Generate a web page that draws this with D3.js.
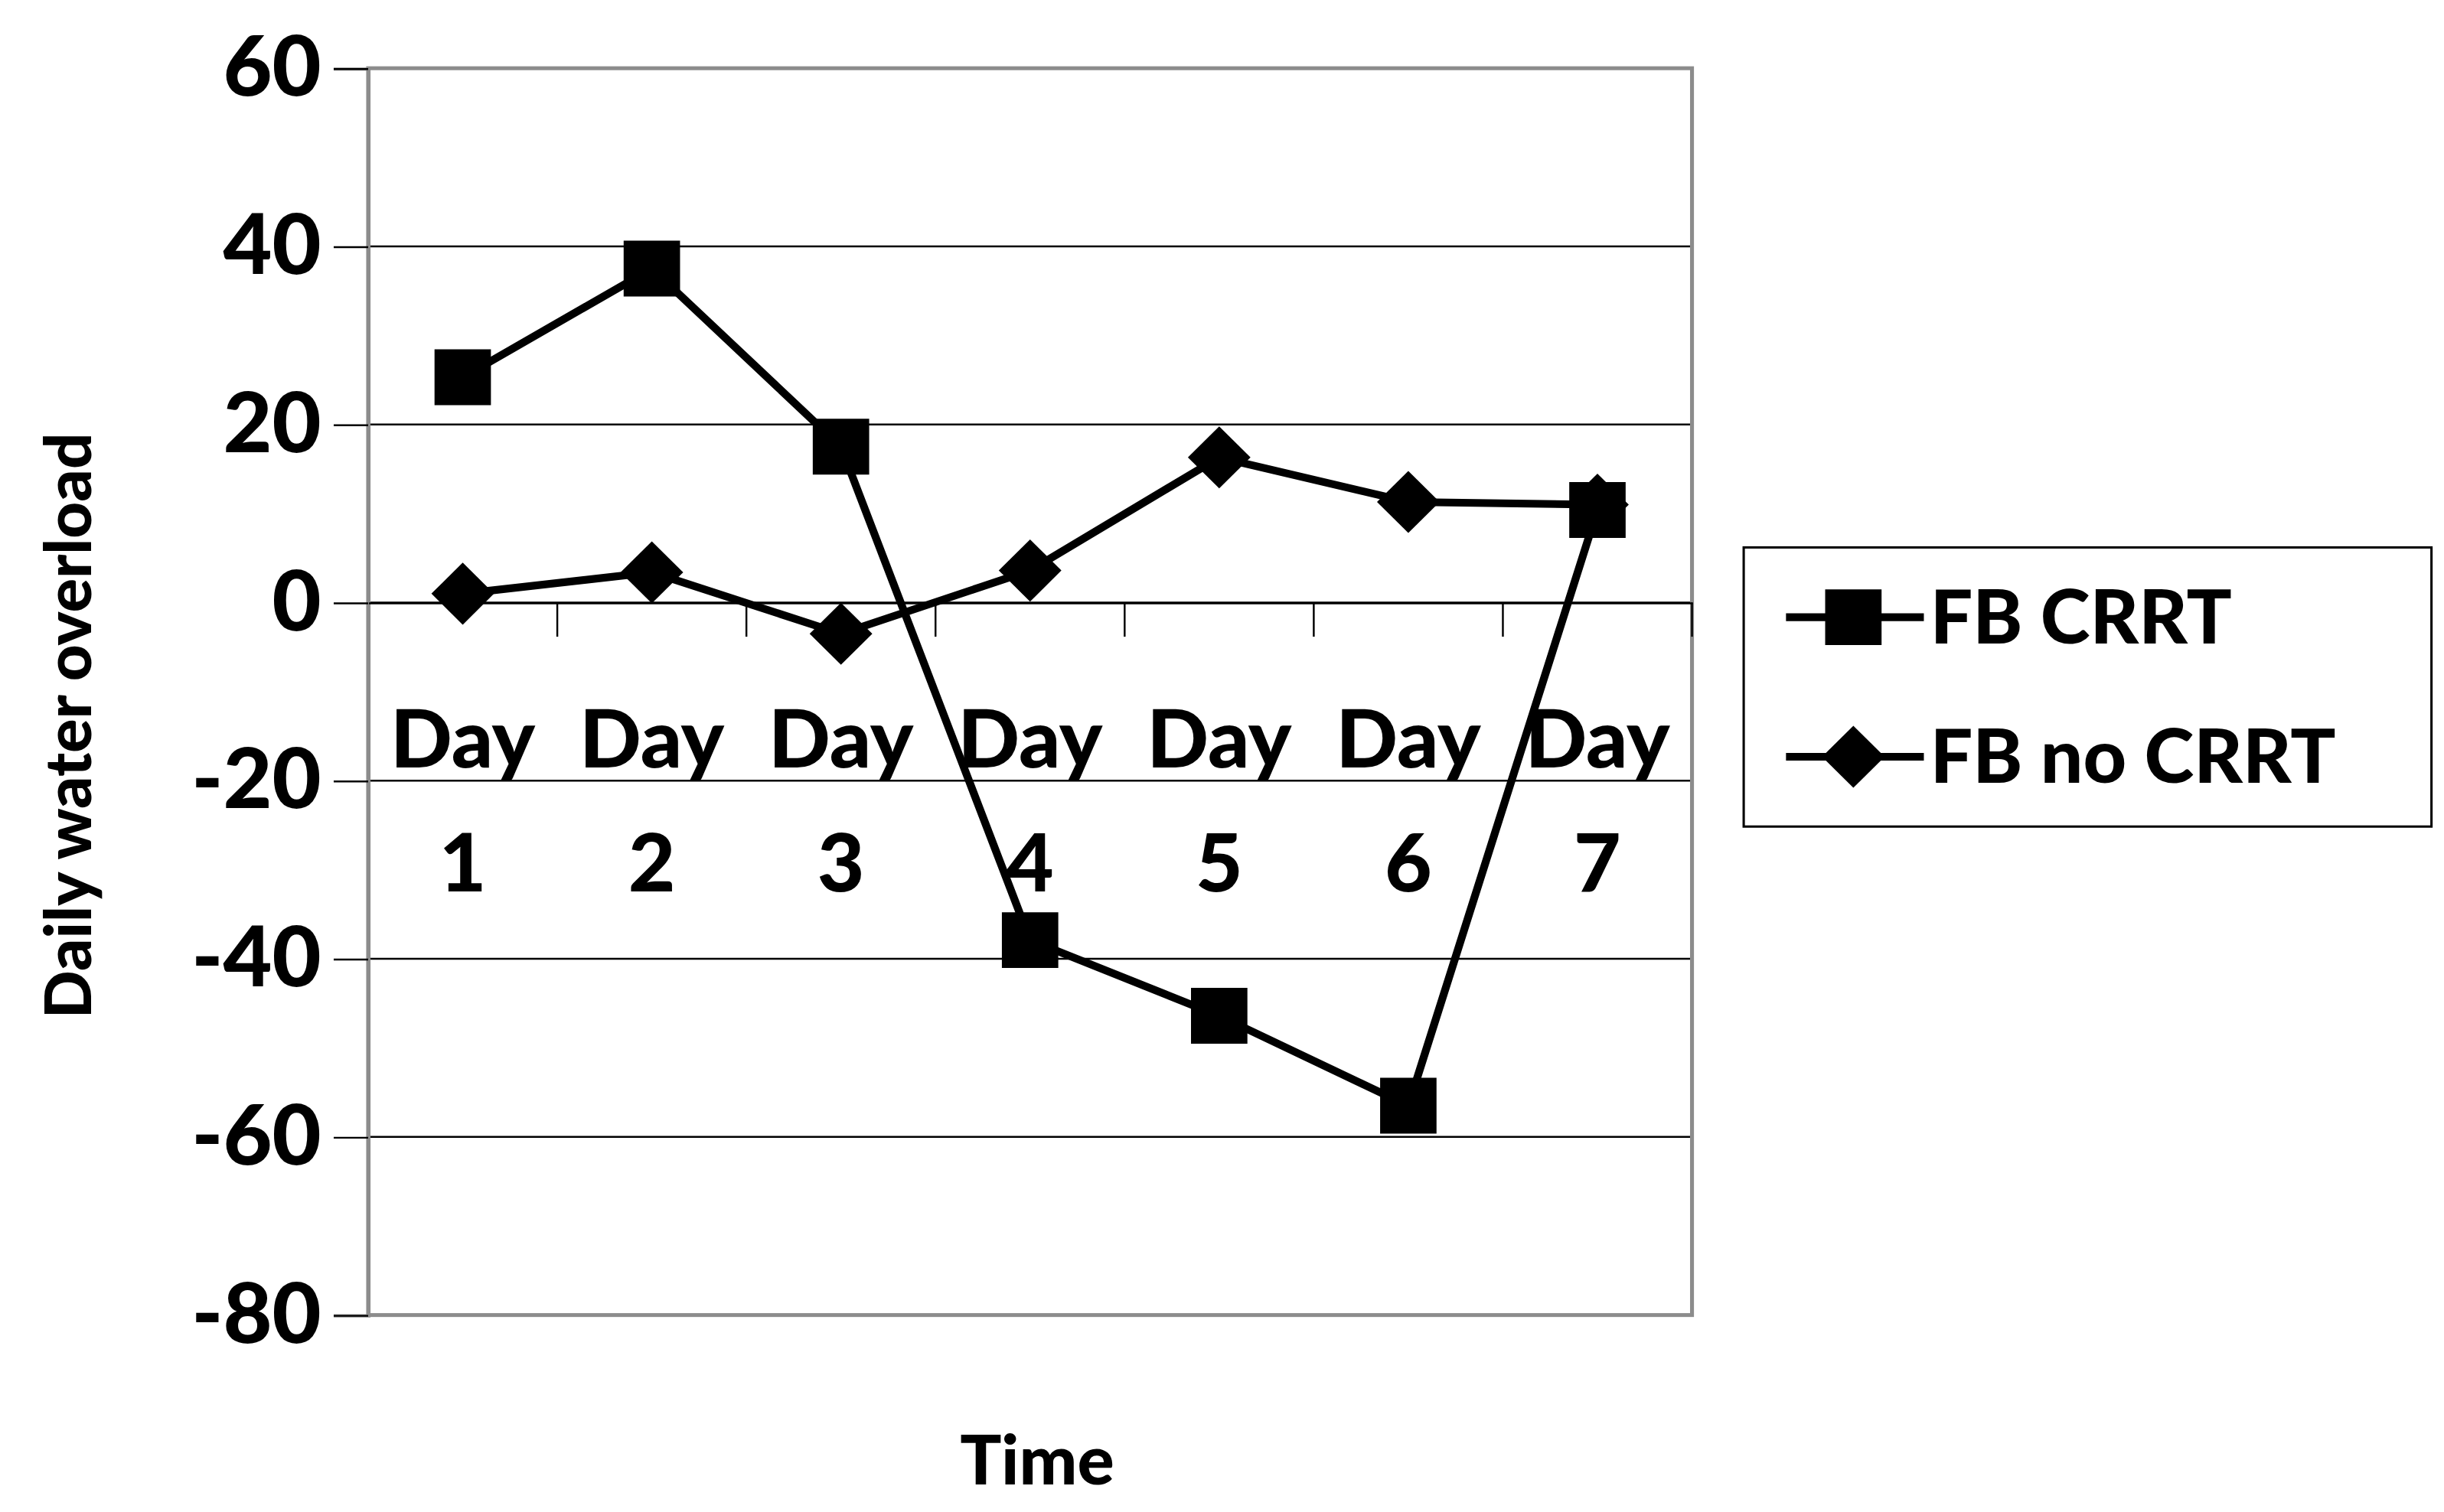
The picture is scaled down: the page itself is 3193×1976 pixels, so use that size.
<!DOCTYPE html>
<html><head><meta charset="utf-8">
<script src="https://cdn.jsdelivr.net/npm/d3@7"></script>
<style>html,body{margin:0;padding:0;background:#fff;overflow:hidden}</style>
</head><body>
<script>
const categories = ["Day 1","Day 2","Day 3","Day 4","Day 5","Day 6","Day 7"];
const fbCRRT = [25.3, 37.5, 17.5, -37.9, -46.4, -56.5, 10.4];
const fbNoCRRT = [1, 3.4, -3.5, 3.6, 16.3, 11.3, 11];
const yTicks = [60,40,20,0,-20,-40,-60,-80];
const seriesNames = ["FB CRRT","FB no CRRT"];

const W=1560,H=975;
const svg=d3.select("body").append("svg").attr("width",3193).attr("height",1976)
  .attr("viewBox",`0 0 ${W} ${H}`).attr("preserveAspectRatio","none");
const font="Lato, 'Open Sans', sans-serif";
const L=235,R=1080,T=44,B=848;
const x=d3.scaleBand().domain(categories).range([L,R]);
const y=d3.scaleLinear().domain([-80,60]).range([B,T]);

svg.append("g").selectAll("line").data(yTicks.filter(d=>d>-80&&d<60)).join("line")
  .attr("x1",L).attr("x2",R).attr("y1",d=>y(d)).attr("y2",d=>y(d)).attr("stroke","#000").attr("stroke-width",1.2);
svg.append("rect").attr("x",L).attr("y",T).attr("width",R-L).attr("height",B-T)
  .attr("fill","none").attr("stroke","#8c8c8c").attr("stroke-width",2.5);
const ya=svg.append("g").attr("transform",`translate(${L},0)`)
  .call(d3.axisLeft(y).tickValues(yTicks).tickSize(22).tickPadding(8).tickFormat(d=>String(d)));
ya.select(".domain").attr("stroke","#8c8c8c").attr("stroke-width",2);
ya.selectAll("line").attr("stroke","#000").attr("stroke-width",1.2);
ya.selectAll("text").attr("font-family",font).attr("font-weight",900).attr("font-size",54).attr("fill","#000");
const xa=svg.append("g").attr("transform",`translate(0,${y(0)})`)
  .call(d3.axisBottom(x).tickSize(0).tickFormat(""));
xa.select(".domain").attr("stroke","#000").attr("stroke-width",1.2);
svg.append("g").selectAll("line").data(categories).join("line")
  .attr("x1",(d,i)=>L+(i+1)*x.bandwidth()).attr("x2",(d,i)=>L+(i+1)*x.bandwidth())
  .attr("y1",y(0)).attr("y2",y(0)+22).attr("stroke","#000").attr("stroke-width",1.2);
const cl=svg.append("g").selectAll("text").data(categories).join("text")
  .attr("font-family",font).attr("font-weight",900).attr("font-size",52).attr("text-anchor","middle");
cl.append("tspan").attr("x",d=>x(d)+x.bandwidth()/2).attr("y",495).text(d=>d.split(" ")[0]);
cl.append("tspan").attr("x",d=>x(d)+x.bandwidth()/2).attr("y",575).text(d=>d.split(" ")[1]);

const line=d3.line().x((d,i)=>x(categories[i])+x.bandwidth()/2).y(d=>y(d));
const sq="M-18,-18H18V18H-18Z";
const dm="M0,-20L20,0L0,20L-20,0Z";
function series(data,sym){
  svg.append("path").datum(data).attr("d",line).attr("fill","none").attr("stroke","#000").attr("stroke-width",5);
  svg.append("g").selectAll("path").data(data).join("path").attr("d",sym)
    .attr("transform",(d,i)=>`translate(${x(categories[i])+x.bandwidth()/2},${y(d)})`).attr("fill","#000");
}
series(fbNoCRRT,dm);
series(fbCRRT,sq);

svg.append("text").attr("transform","translate(58,468) rotate(-90)").attr("text-anchor","middle")
  .attr("font-family",font).attr("font-weight",900).attr("font-size",41).text("Daily water overload");
svg.append("text").attr("x",662).attr("y",957).attr("text-anchor","middle")
  .attr("font-family",font).attr("font-weight",900).attr("font-size",44).text("Time");

svg.append("rect").attr("x",1113).attr("y",353).attr("width",439).attr("height",180)
  .attr("fill","#fff").attr("stroke","#000").attr("stroke-width",1.5);
[[sq,398],[dm,488]].forEach(([s,yy],i)=>{
  svg.append("line").attr("x1",1140).attr("x2",1228).attr("y1",yy).attr("y2",yy).attr("stroke","#000").attr("stroke-width",5);
  svg.append("path").attr("d",s).attr("transform",`translate(1183,${yy})`);
  svg.append("text").attr("x",1232).attr("y",yy+17).attr("font-family",font).attr("font-weight",900)
    .attr("font-size",48).text(seriesNames[i]);
});
</script></body></html>
